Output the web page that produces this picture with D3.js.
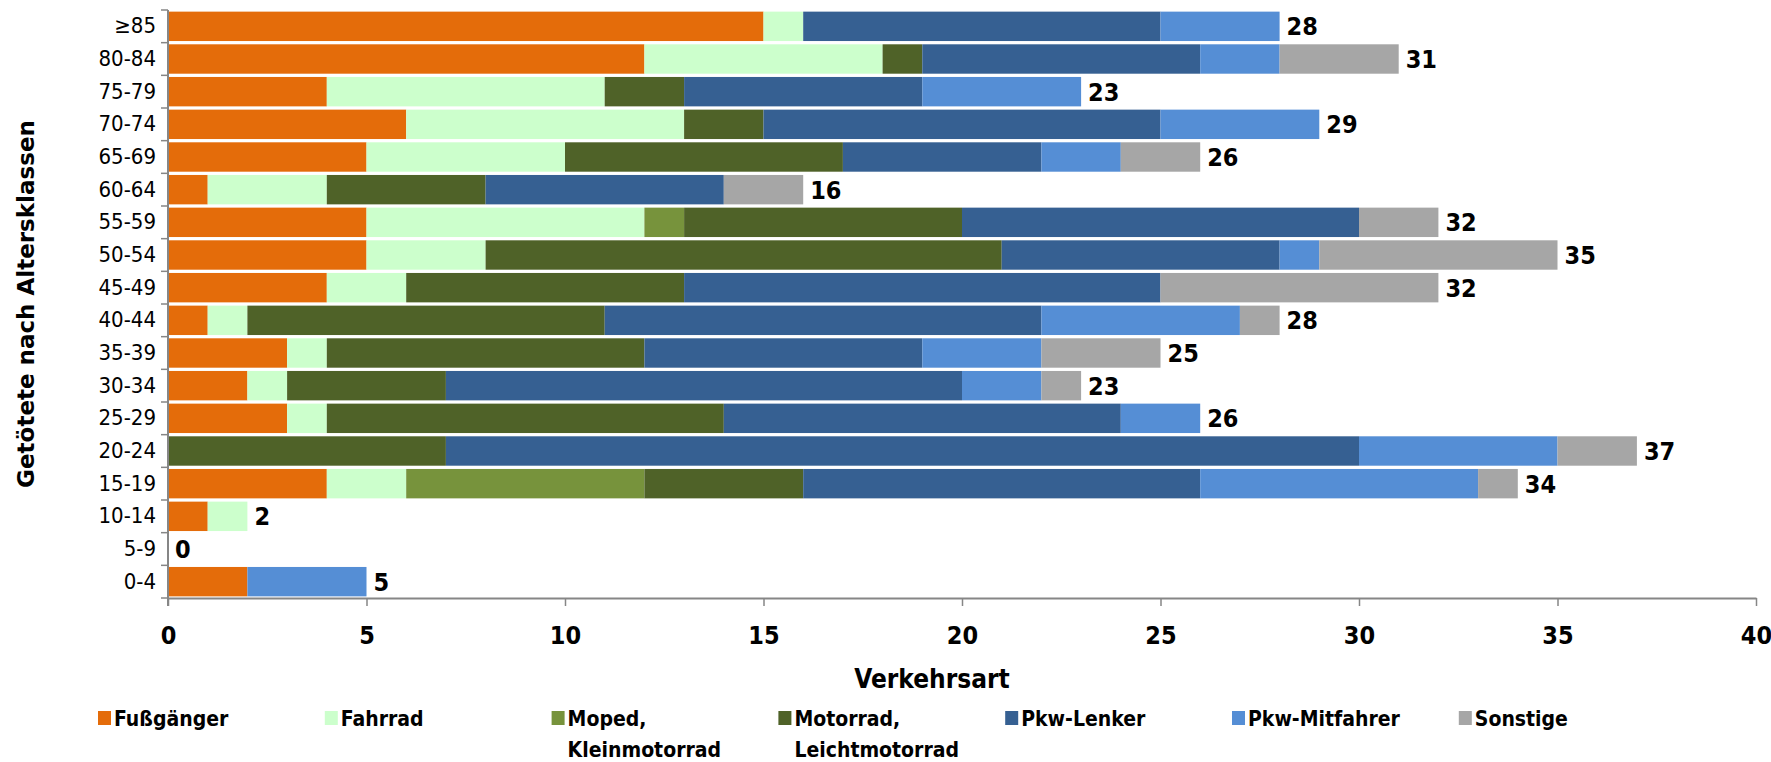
<!DOCTYPE html>
<html>
<head>
<meta charset="utf-8">
<script src="https://cdn.jsdelivr.net/npm/d3@7"></script>
<style>
  body { margin: 0; background: #fff; }
  svg { display: block; }
</style>
</head>
<body>
<svg id="chart" width="1771" height="762"></svg>
<script>
// age classes, top to bottom
var categories = ["≥85", "80-84", "75-79", "70-74", "65-69", "60-64", "55-59", "50-54", "45-49",
  "40-44", "35-39", "30-34", "25-29", "20-24", "15-19", "10-14", "5-9", "0-4"];

var seriesNames = ["Fußgänger", "Fahrrad", "Moped,\nKleinmotorrad", "Motorrad,\nLeichtmotorrad",
  "Pkw-Lenker", "Pkw-Mitfahrer", "Sonstige"];

var fussgaenger  = [15, 12, 4, 6, 5, 1, 5, 5, 4, 1, 3, 2, 3, 0, 4, 1, 0, 2];
var fahrrad      = [1, 6, 7, 7, 5, 3, 7, 3, 2, 1, 1, 1, 1, 0, 2, 1, 0, 0];
var moped        = [0, 0, 0, 0, 0, 0, 1, 0, 0, 0, 0, 0, 0, 0, 6, 0, 0, 0];
var motorrad     = [0, 1, 2, 2, 7, 4, 7, 13, 7, 9, 8, 4, 10, 7, 4, 0, 0, 0];
var pkwLenker    = [9, 7, 6, 10, 5, 6, 10, 7, 12, 11, 7, 13, 10, 23, 10, 0, 0, 0];
var pkwMitfahrer = [3, 2, 4, 4, 2, 0, 0, 1, 0, 5, 3, 2, 2, 5, 7, 0, 0, 3];
var sonstige     = [0, 3, 0, 0, 2, 2, 2, 6, 7, 1, 3, 1, 0, 2, 1, 0, 0, 0];

var xTicks = [0, 5, 10, 15, 20, 25, 30, 35, 40];

var colors = ["#E46C0A", "#CCFFCC", "#77933C", "#4F6228", "#366092", "#558ED5", "#A6A6A6"];

(function () {
  var series = [fussgaenger, fahrrad, moped, motorrad, pkwLenker, pkwMitfahrer, sonstige];

  var rows = categories.map(function (c, i) {
    var r = { cat: c };
    series.forEach(function (s, j) { r["s" + j] = s[i]; });
    r.total = d3.sum(series, function (s) { return s[i]; });
    return r;
  });
  var keys = series.map(function (s, j) { return "s" + j; });

  var svg = d3.select("#chart");
  var mLeft = 168, mRight = 1756, mTop = 10, mBottom = 598;
  var labelFont = "'DejaVu Sans Condensed', 'Liberation Sans Narrow', sans-serif";

  var x = d3.scaleLinear().domain([0, 40]).range([mLeft, mRight]);
  var y = d3.scaleBand().domain(categories).range([mTop, mBottom]).paddingInner(0.1).paddingOuter(0.05);

  var stack = d3.stack().keys(keys)(rows);

  /* bars */
  svg.append("g").selectAll("g").data(stack).join("g")
    .attr("fill", function (d, i) { return colors[i]; })
    .selectAll("rect").data(function (d) { return d; }).join("rect")
    .attr("x", function (d) { return x(d[0]); })
    .attr("y", function (d) { return y(d.data.cat); })
    .attr("width", function (d) { return x(d[1]) - x(d[0]); })
    .attr("height", y.bandwidth());

  /* total labels */
  svg.append("g").selectAll("text").data(rows).join("text")
    .attr("x", function (d) { return x(d.total) + 7; })
    .attr("y", function (d) { return y(d.cat) + y.bandwidth() / 2; })
    .attr("dy", "0.36em")
    .style("font-family", labelFont)
    .style("font-stretch", "condensed")
    .style("font-weight", "bold")
    .style("font-size", "25px")
    .text(function (d) { return d.total; });

  /* x axis */
  var xAxis = svg.append("g").attr("transform", "translate(0," + mBottom + ")")
    .call(d3.axisBottom(x).tickValues(xTicks).tickSize(8).tickSizeOuter(0).tickPadding(20));
  xAxis.select(".domain").attr("stroke", "#868686").attr("stroke-width", 2);
  xAxis.selectAll(".tick line").attr("stroke", "#868686").attr("stroke-width", 1.5);
  xAxis.selectAll("text")
    .style("font-family", labelFont).style("font-stretch", "condensed")
    .style("font-weight", "bold").style("font-size", "25px").attr("fill", "#000");

  /* y axis: labels plus ticks at band boundaries */
  var yAxis = svg.append("g").attr("transform", "translate(" + mLeft + ",0)")
    .call(d3.axisLeft(y).tickSize(0).tickPadding(12));
  yAxis.select(".domain").remove();
  yAxis.selectAll("text")
    .style("font-family", labelFont).style("font-stretch", "condensed")
    .style("font-size", "22px").attr("fill", "#000");

  var step = y.step();
  var bounds = d3.range(categories.length + 1).map(function (i) {
    return y(categories[0]) - (y.paddingInner() * step) / 2 + i * step;
  });
  bounds[0] = mTop; bounds[bounds.length - 1] = mBottom;
  svg.append("g").selectAll("line").data(bounds).join("line")
    .attr("x1", mLeft - 7).attr("x2", mLeft)
    .attr("y1", function (d) { return d; }).attr("y2", function (d) { return d; })
    .attr("stroke", "#868686").attr("stroke-width", 1.5);
  svg.append("line")
    .attr("x1", mLeft).attr("x2", mLeft).attr("y1", mTop).attr("y2", mBottom + 8)
    .attr("stroke", "#868686").attr("stroke-width", 2);

  /* axis titles */
  svg.append("text")
    .attr("x", 932).attr("y", 688)
    .attr("text-anchor", "middle")
    .style("font-family", labelFont).style("font-stretch", "condensed")
    .style("font-weight", "bold").style("font-size", "26px")
    .text("Verkehrsart");

  svg.append("text")
    .attr("transform", "translate(34," + ((mTop + mBottom) / 2) + ") rotate(-90)")
    .attr("text-anchor", "middle")
    .style("font-family", "'DejaVu Sans', Verdana, sans-serif").style("font-weight", "bold").style("font-size", "23px")
    .text("Getötete nach Altersklassen");

  /* legend */
  var legend = svg.append("g").selectAll("g").data(seriesNames).join("g")
    .attr("transform", function (d, i) { return "translate(" + (98 + i * 226.8) + ",718)"; });
  legend.append("rect")
    .attr("x", 0).attr("y", -7).attr("width", 13).attr("height", 14)
    .attr("fill", function (d, i) { return colors[i]; });
  legend.append("text")
    .style("font-family", labelFont).style("font-stretch", "condensed")
    .style("font-weight", "bold").style("font-size", "21px")
    .selectAll("tspan").data(function (d) { return d.split("\n"); }).join("tspan")
    .attr("x", 16)
    .attr("y", function (d, i) { return i * 31; })
    .attr("dy", "0.36em")
    .text(function (d) { return d; });
})();
</script>
</body>
</html>
